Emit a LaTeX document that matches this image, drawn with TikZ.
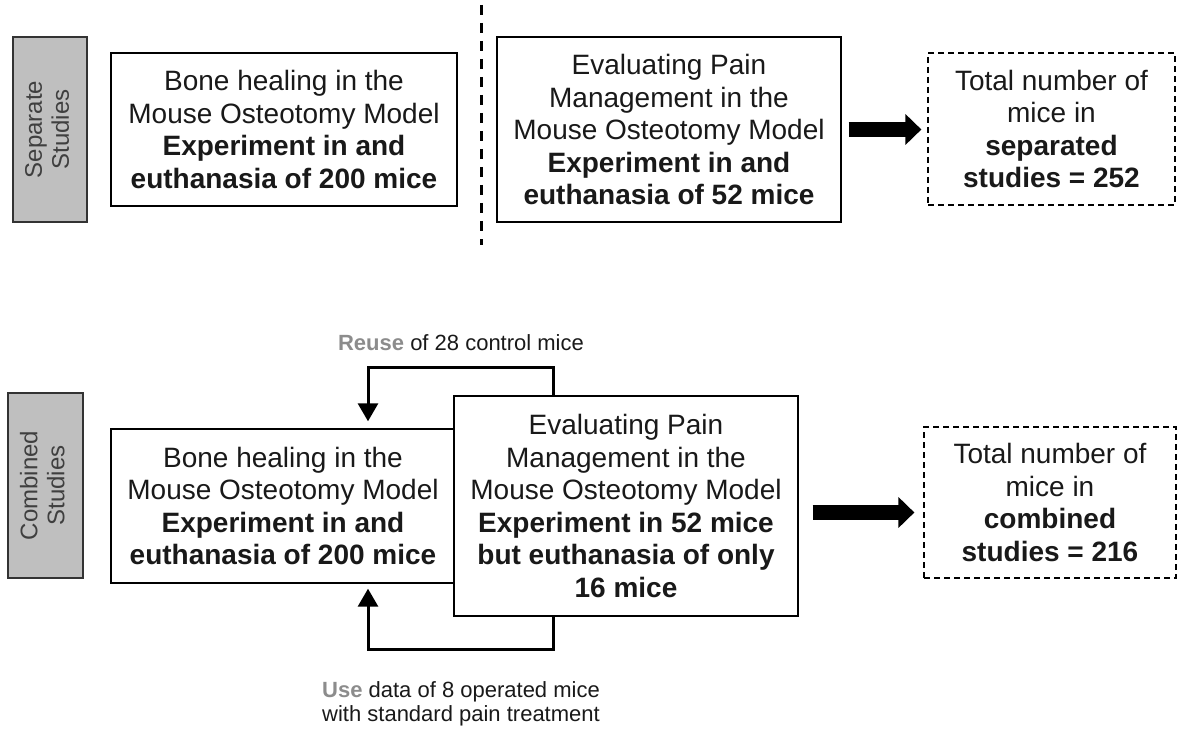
\documentclass[tikz,border=0pt]{standalone}
\usepackage{fontspec}
\setmainfont{Liberation Sans}
\usetikzlibrary{arrows.meta}
\definecolor{sidegray}{HTML}{BFBFBF}
\definecolor{labelgray}{HTML}{3F3F3F}
\definecolor{reusegray}{HTML}{8C8C8C}

\begin{document}
\begin{tikzpicture}[x=1pt,y=-1pt,semithick]
	\tikzstyle{box}=[draw=black,line width=1.4pt,align=center,inner sep=0pt,
		font=\fontsize{28}{32.5}\selectfont,text=black!90]
	\tikzstyle{total}=[box,dashed,dash pattern=on 6pt off 4pt,line width=1.2pt]
	\tikzstyle{side}=[draw=black!80,line width=1.4pt,fill=sidegray,inner sep=0pt,
		align=center,font=\fontsize{24}{27}\selectfont,text=labelgray]
	\tikzstyle{link}=[line width=3pt,-{Triangle[length=18pt,width=20pt]}]
	\tikzstyle{bigarrow}=[line width=15pt,-{Triangle[length=16pt,width=30pt]}]
	\tikzstyle{note}=[align=center,font=\fontsize{22}{23.5}\selectfont,text=black!90]

	\useasboundingbox (0,0) rectangle (1179,733);

	% separate studies
	\node[side,minimum width=74pt,minimum height=185pt] (sepS) at (50,129.5)
		{\rotatebox{90}{\begin{tabular}{@{}c@{}}Separate\\Studies\end{tabular}}};
	\node[box,minimum width=346pt,minimum height=153pt] (boneS) at (284,129.5)
		{Bone healing in the\\Mouse Osteotomy Model\\\textbf{Experiment in and}\\\textbf{euthanasia of 200 mice}};
	\node[box,minimum width=344pt,minimum height=185pt] (painS) at (669,129.5)
		{Evaluating Pain\\Management in the\\Mouse Osteotomy Model\\\textbf{Experiment in and}\\\textbf{euthanasia of 52 mice}};
	\node[total,minimum width=247pt,minimum height=152pt] (totS) at (1051.5,129)
		{Total number of\\mice in\\\textbf{separated}\\\textbf{studies = 252}};
	\coordinate (cutT) at (481,5);
	\coordinate (cutB) at (481,245);
	\draw[line width=3pt,dash pattern=on 10pt off 8pt] (cutT) -- (cutB);
	\draw[bigarrow] ([xshift=7pt]painS.east |- 0,129.5) -- ([xshift=-6pt]totS.west |- 0,129.5);

	% combined studies
	\node[side,minimum width=75pt,minimum height=185pt] (comS) at (45.5,485.5)
		{\rotatebox{90}{\begin{tabular}{@{}c@{}}Combined\\Studies\end{tabular}}};
	\node[box,minimum width=344pt,minimum height=154pt] (boneC) at (283,506)
		{Bone healing in the\\Mouse Osteotomy Model\\\textbf{Experiment in and}\\\textbf{euthanasia of 200 mice}};
	\node[box,fill=white,minimum width=344pt,minimum height=220pt] (painC) at (626,506)
		{Evaluating Pain\\Management in the\\Mouse Osteotomy Model\\\textbf{Experiment in 52 mice}\\\textbf{but euthanasia of only}\\\textbf{16 mice}};
	\node[total,minimum width=252pt,minimum height=151pt] (totC) at (1050,502.5)
		{Total number of\\mice in\\\textbf{combined}\\\textbf{studies = 216}};
	\draw[bigarrow] ([xshift=14pt]painC.east |- 0,512.5) -- ([xshift=-9pt]totC.west |- 0,512.5);

	\coordinate (upR) at (553,367);
	\coordinate (upL) at (368,367);
	\coordinate (lowR) at (553,649);
	\coordinate (lowL) at (368,649);
	\draw[link] (painC.north -| upR) -- (upR) -- (upL) -- ([yshift=7pt]boneC.north -| upL);
	\draw[link] (painC.south -| lowR) -- (lowR) -- (lowL) -- ([yshift=-5pt]boneC.south -| lowL);

	\node[note] (reuse) at (461,343) {\textcolor{reusegray}{\textbf{Reuse}} of 28 control mice};
	\node[note] (use) at (461,704) {\textcolor{reusegray}{\textbf{Use}} data of 8 operated mice\\with standard pain treatment};
\end{tikzpicture}
\end{document}
